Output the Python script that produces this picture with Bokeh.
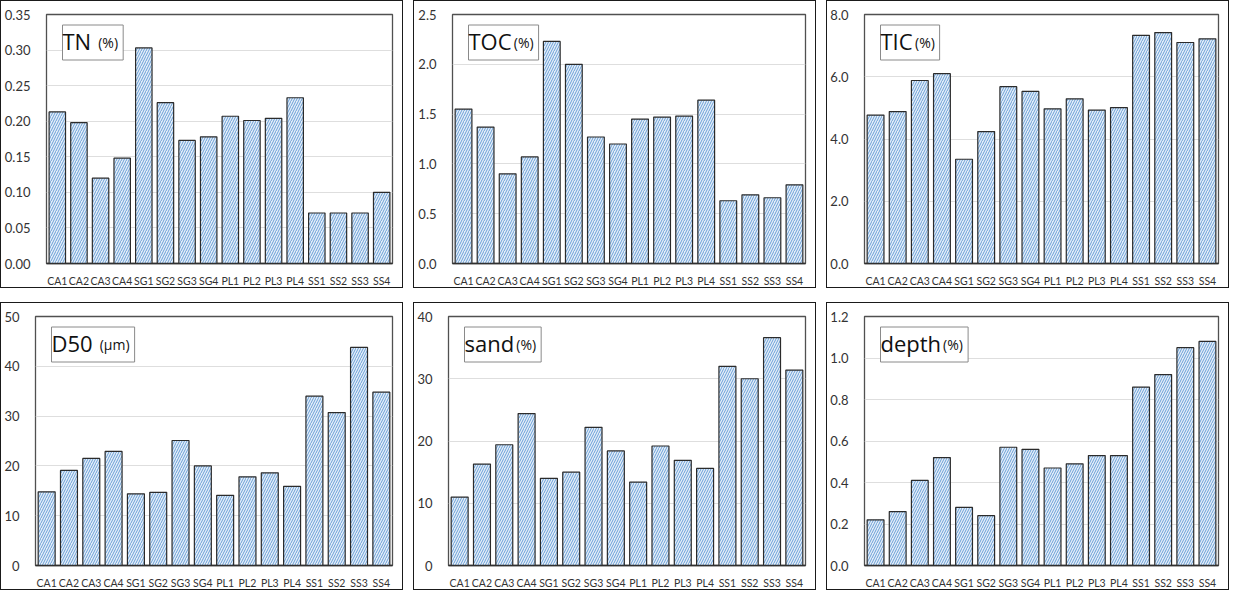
from bokeh.plotting import figure
from bokeh.models import FactorRange, Range1d, FixedTicker, PrintfTickFormatter, Label
from bokeh.layouts import row, column
from bokeh.embed import file_html
from bokeh.resources import INLINE

# ---------------- data ----------------
sites = ["CA1", "CA2", "CA3", "CA4", "SG1", "SG2", "SG3", "SG4",
         "PL1", "PL2", "PL3", "PL4", "SS1", "SS2", "SS3", "SS4"]

tn_values = [0.213, 0.198, 0.120, 0.148, 0.303, 0.226, 0.173, 0.178,
             0.207, 0.201, 0.204, 0.233, 0.071, 0.071, 0.071, 0.100]
toc_values = [1.55, 1.37, 0.90, 1.07, 2.23, 2.00, 1.27, 1.20,
              1.45, 1.47, 1.48, 1.64, 0.63, 0.69, 0.66, 0.79]
tic_values = [4.77, 4.88, 5.88, 6.10, 3.35, 4.24, 5.68, 5.53,
              4.97, 5.29, 4.93, 5.01, 7.33, 7.42, 7.10, 7.22]
d50_values = [14.8, 19.1, 21.5, 22.9, 14.4, 14.7, 25.1, 20.0,
              14.1, 17.8, 18.6, 15.9, 34.0, 30.7, 43.8, 34.8]
sand_values = [11.0, 16.3, 19.4, 24.4, 14.0, 15.0, 22.2, 18.4,
               13.4, 19.2, 16.9, 15.6, 32.0, 30.0, 36.6, 31.4]
depth_values = [0.22, 0.26, 0.41, 0.52, 0.28, 0.24, 0.57, 0.56,
                0.47, 0.49, 0.53, 0.53, 0.86, 0.92, 1.05, 1.08]

tn_ticks = [0.0, 0.05, 0.10, 0.15, 0.20, 0.25, 0.30, 0.35]
toc_ticks = [0.0, 0.5, 1.0, 1.5, 2.0, 2.5]
tic_ticks = [0.0, 2.0, 4.0, 6.0, 8.0]
d50_ticks = [0, 10, 20, 30, 40, 50]
sand_ticks = [0, 10, 20, 30, 40]
depth_ticks = [0.0, 0.2, 0.4, 0.6, 0.8, 1.0, 1.2]

titles = ["TN", "TOC", "TIC", "D50", "sand", "depth"]
units = ["(%)", "(%)", "(%)", "(\u03bcm)", "(%)", "(%)"]

# ---------------- style ----------------
OPEN_SANS_EM = {"T": .557, "N": .747, "O": .781, "C": .633, "I": .288, "D": .728,
                "5": .572, "0": .572, "s": .479, "a": .556, "n": .614, "d": .613,
                "e": .561, "p": .613, "t": .353, "h": .614}

def text_width(s, size):
    return sum(OPEN_SANS_EM.get(c, .6) for c in s) * size

BIG = 22
SMALL = 14
unit_widths = {"(%)": 1.43 * SMALL, "(\u03bcm)": 2.17 * SMALL}

panels = [
    dict(values=tn_values, ticks=tn_ticks, fmt="%.2f", left=45, gap=7),
    dict(values=toc_values, ticks=toc_ticks, fmt="%.1f", left=38, gap=2),
    dict(values=tic_values, ticks=tic_ticks, fmt="%.1f", left=37, gap=2),
    dict(values=d50_values, ticks=d50_ticks, fmt="%d", left=34, gap=7),
    dict(values=sand_values, ticks=sand_ticks, fmt="%d", left=34, gap=2),
    dict(values=depth_values, ticks=depth_ticks, fmt="%.1f", left=37, gap=2),
]

W, H = 403, 288


def make_panel(i, cfg):
    ticks = cfg["ticks"]
    p = figure(x_range=FactorRange(*sites, range_padding=0),
               y_range=Range1d(ticks[0], ticks[-1]),
               width=W, height=H, output_backend="svg", toolbar_location=None,
               min_border_left=cfg["left"], min_border_right=12,
               min_border_top=13, min_border_bottom=26)
    p.styles = {"border": "1px solid #1a1a1a"}
    p.outline_line_color = "#505050"
    p.outline_line_width = 1.3
    p.background_fill_color = "white"
    p.border_fill_color = "white"

    p.vbar(x=sites, top=cfg["values"], width=0.76, bottom=0,
           fill_color="#e4eef9", line_color="#2b2b2b", line_width=1.2,
           hatch_pattern="/", hatch_color="#6a9fd6", hatch_scale=5,
           hatch_weight=1.0)

    p.xgrid.grid_line_color = None
    p.ygrid.grid_line_color = "#dedede"
    p.ygrid.grid_line_width = 1

    p.yaxis.ticker = FixedTicker(ticks=ticks)
    p.yaxis.formatter = PrintfTickFormatter(format=cfg["fmt"])
    p.yaxis.axis_line_color = None
    p.yaxis.major_tick_line_color = None
    p.yaxis.minor_tick_line_color = None
    p.yaxis.major_label_standoff = 10
    p.yaxis.major_label_text_font = "Lato"
    p.yaxis.major_label_text_font_size = "13px"
    p.yaxis.major_label_text_color = "#333333"

    p.xaxis.axis_line_color = "#303030"
    p.xaxis.axis_line_width = 1.5
    p.xaxis.major_tick_line_color = None
    p.xaxis.minor_tick_line_color = None
    p.xaxis.major_label_standoff = 5
    p.xaxis.major_label_text_font = "Lato"
    p.xaxis.major_label_text_font_size = "10.5px"
    p.xaxis.major_label_text_color = "#333333"

    name = titles[i]
    unit = units[i]
    nw = text_width(name, BIG)
    uw = unit_widths[unit]
    pad_l = 4
    right_pad = int(round(cfg["gap"] + uw + 5))
    box = Label(x=12 + pad_l, y=ticks[-1], x_units="screen", y_units="data",
                y_offset=-28, text=name, text_font="Open Sans",
                text_font_size=f"{BIG}px", text_color="#111111",
                text_align="left", text_baseline="alphabetic",
                border_line_color="#8a8a8a", border_line_width=1,
                background_fill_color="white",
                padding=(0, right_pad, 1, pad_l))
    p.add_layout(box)
    ulab = Label(x=12 + pad_l + nw + cfg["gap"], y=ticks[-1], x_units="screen",
                 y_units="data", y_offset=-28, text=unit, text_font="Open Sans",
                 text_font_size=f"{SMALL}px", text_color="#111111",
                 text_align="left", text_baseline="alphabetic")
    p.add_layout(ulab)
    return p


figs = [make_panel(i, cfg) for i, cfg in enumerate(panels)]
layout = column(row(figs[0], figs[1], figs[2], spacing=10),
                row(figs[3], figs[4], figs[5], spacing=10), spacing=14)

open("out.html", "w").write(file_html(layout, INLINE))
